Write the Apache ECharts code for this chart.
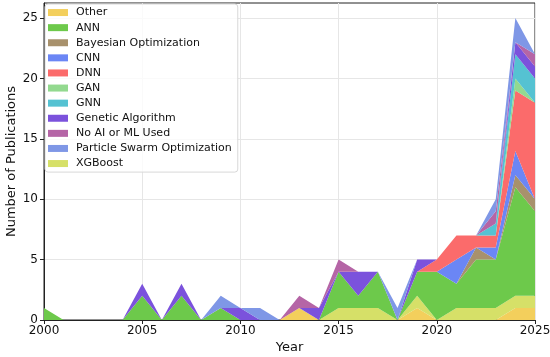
<!DOCTYPE html>
<html>
<head>
<meta charset="utf-8">
<script src="https://cdn.jsdelivr.net/npm/echarts@6/dist/echarts.min.js"></script>
<style>
html,body{margin:0;padding:0;background:#fff;}
#chart{width:550px;height:357px;}
</style>
</head>
<body>
<div id="chart"></div>
<script>
// ---- data ----
const years = [2000,2001,2002,2003,2004,2005,2006,2007,2008,2009,2010,2011,2012,2013,2014,2015,2016,2017,2018,2019,2020,2021,2022,2023,2024,2025];
const other    = [0,0,0,0,0,0,0,0,0,0,0,0,0,1,0,0,0,0,0,1,0,0,0,0,1,1];
const xgboost  = [0,0,0,0,0,0,0,0,0,0,0,0,0,0,0,1,1,1,0,1,0,1,1,1,1,1];
const ann      = [1,0,0,0,0,2,0,2,0,1,0,0,0,0,0,3,1,3,0,2,4,2,4,4,9,7];
const bayesian = [0,0,0,0,0,0,0,0,0,0,0,0,0,0,0,0,0,0,0,0,0,0,1,0,1,1];
const cnn      = [0,0,0,0,0,0,0,0,0,0,0,0,0,0,0,0,0,0,0,0,0,2,0,1,2,0];
const dnn      = [0,0,0,0,0,0,0,0,0,0,0,0,0,0,0,0,0,0,0,0,1,2,1,1,5,8];
const gan      = [0,0,0,0,0,0,0,0,0,0,0,0,0,0,0,0,0,0,0,0,0,0,0,0,1,0];
const gnn      = [0,0,0,0,0,0,0,0,0,0,0,0,0,0,0,0,0,0,0,0,0,0,0,1,2,2];
const genetic  = [0,0,0,0,0,1,0,1,0,0,1,0,0,0,1,0,2,0,0,1,0,0,0,0,1,1];
const noAI     = [0,0,0,0,0,0,0,0,0,0,0,0,0,1,0,1,0,0,0,0,0,0,0,1,0,1];
const pso      = [0,0,0,0,0,0,0,0,0,1,0,1,0,0,0,0,0,0,1,0,0,0,0,1,2,0];

const legendOrder = ['Other','ANN','Bayesian Optimization','CNN','DNN','GAN','GNN','Genetic Algorithm','No AI or ML Used','Particle Swarm Optimization','XGBoost'];
const xTickLabels = ['2000','2005','2010','2015','2020','2025'];
const yTicks = [0,5,10,15,20,25];

// stacking order (bottom to top)
const stackSeries = [
  {name:'Other', values: other, color:'#f3cf5c'},
  {name:'XGBoost', values: xgboost, color:'#d6e068'},
  {name:'ANN', values: ann, color:'#6dc94b'},
  {name:'Bayesian Optimization', values: bayesian, color:'#a8916c'},
  {name:'CNN', values: cnn, color:'#6b86f5'},
  {name:'DNN', values: dnn, color:'#fb6b6b'},
  {name:'GAN', values: gan, color:'#93d98f'},
  {name:'GNN', values: gnn, color:'#55c2d2'},
  {name:'Genetic Algorithm', values: genetic, color:'#7b52dc'},
  {name:'No AI or ML Used', values: noAI, color:'#b565a6'},
  {name:'Particle Swarm Optimization', values: pso, color:'#7f97e6'}
];

const font = 'DejaVu Sans';
const chart = echarts.init(document.getElementById('chart'), null, {renderer:'canvas'});
const tickEvery = (i, v) => xTickLabels.indexOf(String(v)) >= 0;

chart.setOption({
  animation: false,
  backgroundColor: '#fff',
  grid: {left:44, right:15, top:3, bottom:37, outerBoundsMode:'none', containLabel:false,
         show:true, borderColor:'#222', borderWidth:1, backgroundColor:'transparent'},
  legend: {
    data: legendOrder,
    orient: 'vertical',
    left: 45, top: 4,
    icon: 'rect',
    itemWidth: 20, itemHeight: 7,
    itemGap: 2,
    padding: [2,6,2,3],
    backgroundColor: 'rgba(255,255,255,0.8)',
    borderColor: '#d8d8d8', borderWidth: 1, borderRadius: 3,
    textStyle: {fontFamily: font, fontSize: 11, color:'#111', lineHeight:13.1, padding:[0,0,0,3]}
  },
  xAxis: {
    type: 'category', data: years.map(String), boundaryGap: false,
    name: 'Year', nameLocation: 'middle', nameGap: 21, nameMoveOverlap: false,
    nameTextStyle: {fontFamily: font, fontSize: 13, color:'#111'},
    axisLine: {show:true, lineStyle:{color:'#222'}},
    axisTick: {show:true, length:4, lineStyle:{color:'#222'}, interval: tickEvery},
    axisLabel: {fontFamily: font, fontSize: 12, color:'#111', margin:5, interval: tickEvery},
    splitLine: {show:true, interval: tickEvery, lineStyle:{color:'#e6e6e6', width:1}}
  },
  yAxis: {
    type: 'value', min: 0, max: 26.25, interval: 5,
    name: 'Number of Publications', nameLocation: 'middle', nameGap: 26, nameMoveOverlap: false,
    nameTextStyle: {fontFamily: font, fontSize: 13, color:'#111'},
    axisLine: {show:true, lineStyle:{color:'#222'}},
    axisTick: {show:true, length:4, lineStyle:{color:'#222'}, customValues: yTicks},
    axisLabel: {fontFamily: font, fontSize: 12, color:'#111', margin:6, customValues: yTicks},
    splitLine: {show:true, lineStyle:{color:'#e6e6e6', width:1}}
  },
  series: stackSeries.map(s => ({
    name: s.name,
    type: 'line',
    stack: 'total',
    symbol: 'none',
    color: s.color,
    lineStyle: {width: 0, color: s.color},
    itemStyle: {color: s.color},
    areaStyle: {color: s.color, opacity: 1},
    data: s.values
  }))
});
</script>
</body>
</html>
